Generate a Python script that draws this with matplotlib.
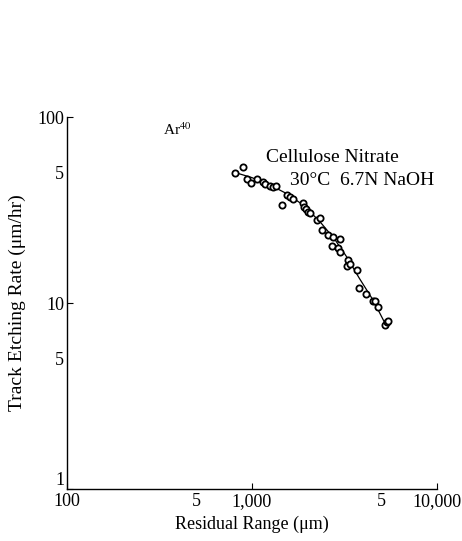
import matplotlib
matplotlib.use("Agg")
import matplotlib.pyplot as plt
from matplotlib.ticker import FixedLocator

plt.rcParams['font.family'] = ['Liberation Serif', 'DejaVu Serif']
plt.rcParams['mathtext.fontset'] = 'stix'

# Data (Residual range in um, etch rate in um/hr)
range_um = [809, 891, 935, 984, 1069, 1142, 1175, 1250, 1303, 1348, 1447, 1541,
            1604, 1673, 1893, 1910, 1958, 2015, 2061, 2239, 2327, 2382, 2584,
            2700, 2752, 2932, 2993, 2993, 3280, 3320, 3390, 3681, 3803, 4131,
            4488, 4618, 4818, 5240, 5345, 5430]
rate = [50.2, 53.7, 46.2, 44.0, 46.2, 44.8, 43.5, 42.6, 42.0, 42.6, 33.6, 38.1,
        37.0, 36.1, 34.4, 33.0, 31.9, 31.0, 30.3, 27.9, 28.5, 24.7, 23.2,
        20.2, 22.6, 19.7, 22.0, 18.9, 15.8, 17.0, 16.3, 15.0, 12.0, 11.2,
        10.2, 10.3, 9.55, 7.62, 7.93, 8.0]

# Fitted curve as drawn
curve_x = [794, 1000, 1250, 1550, 1893, 2327, 2800, 3250, 3800, 4530, 5345]
curve_y = [50.6, 47.2, 43.1, 38.6, 33.6, 27.4, 22.0, 17.7, 13.6, 10.3, 7.47]

x_major = [100, 1000, 10000]
x_major_labels = ['100', '1,000', '10,000']
x_minor = [500, 5000]
x_minor_labels = ['5', '5']
y_major = [1, 10, 100]
y_major_labels = ['1', '10', '100']
y_minor = [5, 50]
y_minor_labels = ['5', '5']

fig = plt.figure(figsize=(4.62, 5.41), dpi=100)
ax = fig.add_axes([67/462, 1-489/541, 370/462, 372/541])
ax.set_xscale('log')
ax.set_yscale('log')
ax.set_xlim(100, 10000)
ax.set_ylim(1, 100)

ax.plot(curve_x, curve_y, color='black', lw=0.9, zorder=2)
ax.plot(range_um, rate, linestyle='none', marker='o', ms=4.5, mfc='white',
        mec='black', mew=1.3, zorder=3)

for s in ['top', 'right']:
    ax.spines[s].set_visible(False)
for s in ['left', 'bottom']:
    ax.spines[s].set_linewidth(1.0)

ax.xaxis.set_major_locator(FixedLocator(x_major))
ax.xaxis.set_minor_locator(FixedLocator(x_minor))
ax.yaxis.set_major_locator(FixedLocator(y_major))
ax.yaxis.set_minor_locator(FixedLocator(y_minor))
ax.set_xticklabels(x_major_labels)
ax.set_xticklabels(x_minor_labels, minor=True)
ax.set_yticklabels(y_major_labels)
ax.set_yticklabels(y_minor_labels, minor=True)
ax.tick_params(which='major', direction='in', length=4, width=0.8, labelsize=13, pad=2)
ax.tick_params(which='minor', length=0, labelsize=13, pad=2)
ax.tick_params(axis='x', which='both', pad=3)

# raise the "1" label so it sits above the x-axis labels
for lab in ax.get_yticklabels():
    if lab.get_text() == '1':
        lab.set_verticalalignment('bottom')

ax.set_xlabel('Residual Range (μm)', fontsize=13, labelpad=4)
ax.set_ylabel('Track Etching Rate (μm/hr)', fontsize=14, labelpad=8)

ax.text(0.259, 0.965, 'Ar$^{40}$', transform=ax.transAxes, fontsize=11,
        ha='left', va='center')
ax.text(0.538, 0.892, 'Cellulose Nitrate', transform=ax.transAxes, fontsize=14,
        ha='left', va='center')
ax.text(0.603, 0.828, '30°C  6.7N NaOH', transform=ax.transAxes, fontsize=14,
        ha='left', va='center')

fig.savefig('out.png', dpi=100)
